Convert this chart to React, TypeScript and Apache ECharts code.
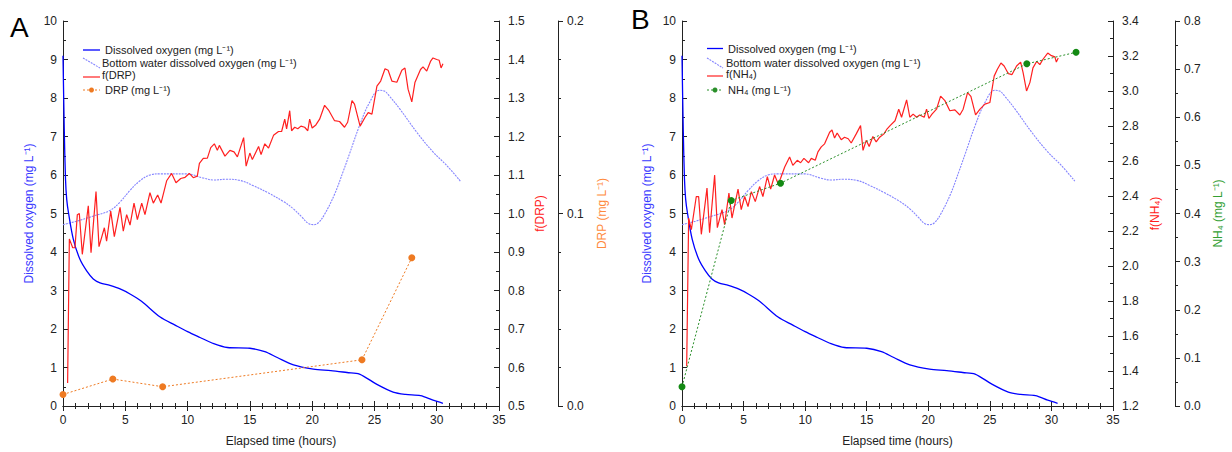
import React, { useEffect, useRef } from "react";
import * as echarts from "echarts";

// Elapsed time (hours), value pairs
const dissolvedOxygen: [number, number][] = [
  [0, 9.1], [0.1, 7.2], [0.2, 5.9], [0.3, 5.36], [0.45, 5.0], [0.83, 4.33], [1.36, 3.81],
  [1.9, 3.51], [2.43, 3.3], [2.97, 3.2], [3.77, 3.13], [4.58, 3.04], [5.38, 2.91], [6.3, 2.72],
  [7.8, 2.31], [9, 2.1], [10, 1.93], [11, 1.78], [12.1, 1.62], [13.2, 1.52], [15, 1.5],
  [16.2, 1.41], [17.2, 1.26], [18.5, 1.07], [20.1, 0.96], [21.5, 0.92], [22.8, 0.87],
  [23.8, 0.83], [25.2, 0.56], [26.5, 0.36], [27.5, 0.3], [28.7, 0.27], [29.7, 0.15], [30.5, 0.07],
];

const bottomWaterDO: [number, number][] = [
  [0, 4.71], [1.1, 4.8], [2.4, 4.93], [3.77, 5.08], [4.58, 5.3], [5.38, 5.6], [6.18, 5.85],
  [6.98, 6.0], [7.8, 6.03], [9.9, 6.03], [11.26, 5.92], [12.1, 5.87], [13.1, 5.89], [14.2, 5.86],
  [15.3, 5.72], [16.5, 5.53], [17.7, 5.31], [18.5, 5.12], [19.2, 4.9], [19.7, 4.74], [20.1, 4.71],
  [20.5, 4.76], [21.0, 4.98], [21.8, 5.5], [22.5, 6.1], [23.0, 6.55], [23.8, 7.28], [24.6, 7.88],
  [25.4, 8.2], [25.8, 8.18], [26.2, 8.05], [27.05, 7.71], [28.4, 7.11], [29.7, 6.6], [30.8, 6.25],
  [31.9, 5.84],
];

const fDRP: [number, number][] = [
  [0.37, 0.56], [0.51, 0.934], [0.78, 0.911], [0.96, 0.911], [1.15, 0.997], [1.31, 1.0],
  [1.55, 0.894], [2.03, 1.02], [2.25, 0.898], [2.65, 1.057], [2.89, 0.914], [3.32, 0.963],
  [3.5, 0.928], [3.83, 1.006], [4.12, 0.94], [4.58, 1.016], [4.84, 0.954], [5.11, 0.997],
  [5.38, 0.97], [5.7, 1.027], [5.97, 0.984], [6.32, 1.027], [6.58, 0.997], [6.98, 1.054],
  [7.25, 1.027], [7.6, 1.048], [7.87, 1.027], [8.32, 1.085], [8.72, 1.104], [9.07, 1.08],
  [9.45, 1.091], [9.8, 1.094], [10.14, 1.104], [10.46, 1.093], [10.78, 1.097], [10.95, 1.13],
  [11.26, 1.143], [11.59, 1.144], [11.86, 1.171], [12.15, 1.181], [12.39, 1.164], [12.55, 1.177],
  [13.0, 1.149], [13.4, 1.164], [13.73, 1.16], [14.0, 1.147], [14.5, 1.197], [14.7, 1.123],
  [15.0, 1.157], [15.2, 1.14], [15.7, 1.174], [15.9, 1.153], [16.2, 1.181], [16.5, 1.17],
  [16.9, 1.203], [17.3, 1.213], [17.55, 1.213], [17.8, 1.245], [17.95, 1.22], [18.2, 1.267],
  [18.35, 1.215], [18.6, 1.224], [18.85, 1.22], [19.1, 1.227], [19.4, 1.224], [19.65, 1.215],
  [19.8, 1.245], [20.0, 1.222], [20.3, 1.23], [20.6, 1.245], [21.0, 1.281], [21.35, 1.267],
  [21.8, 1.241], [22.2, 1.239], [22.6, 1.224], [22.85, 1.237], [23.2, 1.293], [23.4, 1.284],
  [23.85, 1.227], [24.25, 1.25], [24.5, 1.262], [24.8, 1.258], [25.2, 1.331], [25.5, 1.344],
  [25.85, 1.376], [26.1, 1.372], [26.4, 1.344], [26.8, 1.341], [27.2, 1.372], [27.45, 1.378],
  [27.7, 1.323], [28.0, 1.29], [28.25, 1.34], [28.7, 1.374], [28.9, 1.381], [29.2, 1.37],
  [29.5, 1.395], [29.7, 1.404], [30.0, 1.4], [30.2, 1.398], [30.35, 1.378], [30.5, 1.389],
];

const drp: [number, number][] = [
  [0, 0.006], [4, 0.014], [8, 0.01], [24, 0.024], [28, 0.077],
];

const fNH4: [number, number][] = [
  [0.38, 1.427], [0.54, 2.274], [0.76, 2.208], [1.16, 2.397], [1.35, 2.397], [1.57, 2.181],
  [2.03, 2.445], [2.24, 2.19], [2.65, 2.52], [2.87, 2.219], [3.25, 2.322], [3.46, 2.236],
  [3.81, 2.417], [4.06, 2.274], [4.55, 2.439], [4.81, 2.322], [5.09, 2.397], [5.36, 2.34],
  [5.63, 2.425], [5.95, 2.368], [6.3, 2.454], [6.57, 2.397], [6.93, 2.511], [7.2, 2.439],
  [7.52, 2.52], [7.8, 2.472], [8.0, 2.5], [8.34, 2.566], [8.74, 2.623], [9.0, 2.575],
  [9.36, 2.604], [9.63, 2.59], [9.9, 2.615], [10.28, 2.59], [10.5, 2.615], [10.82, 2.604],
  [11.04, 2.652], [11.31, 2.681], [11.58, 2.698], [11.99, 2.764], [12.18, 2.777], [12.39, 2.731],
  [12.6, 2.76], [12.93, 2.722], [13.2, 2.736], [13.5, 2.727], [13.74, 2.703], [14.15, 2.755],
  [14.5, 2.802], [14.7, 2.661], [14.96, 2.718], [15.2, 2.683], [15.5, 2.74], [15.77, 2.709],
  [16.05, 2.736], [16.4, 2.755], [16.66, 2.784], [16.9, 2.802], [17.3, 2.83], [17.6, 2.896],
  [17.83, 2.85], [18.24, 2.949], [18.5, 2.85], [18.77, 2.868], [19.05, 2.85], [19.3, 2.863],
  [19.67, 2.85], [19.86, 2.896], [20.05, 2.843], [20.3, 2.868], [20.67, 2.896], [21.0, 2.971],
  [21.35, 2.945], [21.75, 2.887], [22.16, 2.892], [22.56, 2.863], [22.83, 2.896], [23.19, 2.991],
  [23.46, 2.969], [23.84, 2.863], [24.2, 2.896], [24.6, 2.925], [25.0, 2.934], [25.35, 3.085],
  [25.6, 3.123], [25.9, 3.16], [26.16, 3.143], [26.5, 3.099], [26.8, 3.094], [27.17, 3.143],
  [27.5, 3.165], [27.7, 3.105], [27.98, 3.0], [28.25, 3.048], [28.5, 3.132], [28.8, 3.169],
  [29.06, 3.151], [29.3, 3.18], [29.7, 3.217], [30.0, 3.202], [30.28, 3.195], [30.4, 3.165],
  [30.55, 3.189],
];

const nh4: [number, number][] = [
  [0, 0.04], [4, 0.427], [8, 0.463], [28, 0.711], [32, 0.735],
];

const FONT = "Liberation Sans, Arial, sans-serif";
const INK = "#222";
const C_DO = "#0000ff";
const C_BW = "#8585ff";
const C_F = "#ff2020";
const C_DRP = "#ee7a22";
const C_NH4 = "#2a8f2a";

function xAxes(gridIndex: number) {
  const base = {
    type: "value",
    gridIndex,
    min: 0,
    max: 35,
    interval: 5,
    axisLine: { show: true, lineStyle: { color: INK, width: 1 } },
    axisTick: { show: true, inside: true, length: 5, lineStyle: { color: INK } },
    minorTick: { show: true, splitNumber: 5, length: 3, lineStyle: { color: INK } },
    splitLine: { show: false },
    minorSplitLine: { show: false },
  };
  return [
    {
      ...base,
      position: "bottom",
      axisLabel: { color: INK, fontSize: 12, fontFamily: FONT, margin: 8 },
      name: "Elapsed time (hours)",
      nameLocation: "middle",
      nameGap: 29,
      nameTextStyle: { color: INK, fontSize: 12, fontFamily: FONT },
    },
    { ...base, position: "top", axisLabel: { show: false } },
  ];
}

function leftDOAxis(gridIndex: number, gap: number) {
  return {
    type: "value",
    gridIndex,
    position: "left",
    min: 0,
    max: 10,
    interval: 1,
    axisLine: { show: true, lineStyle: { color: INK } },
    axisTick: { show: true, inside: true, length: 5, lineStyle: { color: INK } },
    minorTick: { show: true, splitNumber: 2, length: 3, lineStyle: { color: INK } },
    axisLabel: { color: INK, fontSize: 12, fontFamily: FONT, margin: 6 },
    splitLine: { show: false },
    name: "Dissolved oxygen (mg L⁻¹)",
    nameLocation: "middle",
    nameRotate: 90,
    nameGap: gap,
    nameTextStyle: { color: "#3a3aff", fontSize: 12, fontFamily: FONT },
  };
}

function rightAxis(
  gridIndex: number,
  opts: { min: number; max: number; interval: number; minor: number; offset: number; name: string; color: string; gap: number; inside: boolean }
) {
  return {
    type: "value",
    gridIndex,
    position: "right",
    offset: opts.offset,
    min: opts.min,
    max: opts.max,
    interval: opts.interval,
    axisLine: { show: true, onZero: false, lineStyle: { color: INK } },
    axisTick: { show: true, inside: opts.inside, length: 5, lineStyle: { color: INK } },
    minorTick: { show: true, splitNumber: opts.minor, length: 3, lineStyle: { color: INK } },
    axisLabel: {
      color: INK,
      fontSize: 12,
      fontFamily: FONT,
      margin: 9,
      formatter: (v: number) => v.toFixed(1),
    },
    splitLine: { show: false },
    name: opts.name,
    nameLocation: "middle",
    nameRotate: 90,
    nameGap: opts.gap,
    nameTextStyle: { color: opts.color, fontSize: 12, fontFamily: FONT },
  };
}

function legend(x0: number, x1: number, tx1: number, tx2: number, ys: number[], fName: string, mName: string, mColor: string, mDash: number[]) {
  const t = (x: number, y: number, text: string) => ({
    type: "text",
    x,
    y,
    silent: true,
    style: { text, fill: INK, font: `11px ${FONT}`, verticalAlign: "middle", align: "left" },
  });
  return [
    { type: "line", silent: true, shape: { x1: x0, y1: ys[0], x2: x1, y2: ys[0] }, style: { stroke: C_DO, lineWidth: 1.3 } },
    t(tx1, ys[0], "Dissolved oxygen (mg L⁻¹)"),
    { type: "line", silent: true, shape: { x1: x0, y1: ys[1] - 5, x2: x1, y2: ys[1] + 5 }, style: { stroke: C_BW, lineWidth: 1.1, lineDash: [2, 1] } },
    t(tx2, ys[1], "Bottom water dissolved oxygen (mg L⁻¹)"),
    { type: "line", silent: true, shape: { x1: x0, y1: ys[2] + 2, x2: x1, y2: ys[2] + 2 }, style: { stroke: C_F, lineWidth: 1.2 } },
    t(tx2, ys[2], fName),
    { type: "line", silent: true, shape: { x1: x0, y1: ys[3], x2: x1, y2: ys[3] }, style: { stroke: mColor, lineWidth: 1, lineDash: mDash } },
    { type: "circle", silent: true, shape: { cx: (x0 + x1) / 2, cy: ys[3], r: 2.5 }, style: { fill: mColor } },
    t(tx1, ys[3], mName),
  ];
}

export default function App() {
  const ref = useRef<HTMLDivElement>(null);
  useEffect(() => {
    document.body.style.margin = "0";
    if (!ref.current) return;
    const chart = echarts.init(ref.current, undefined, { renderer: "svg" });
    chart.setOption({
      animation: false,
      backgroundColor: "#fff",
      textStyle: { fontFamily: FONT },
      grid: [
        { left: 63, width: 436, top: 21, height: 389 },
        { left: 682, width: 431, top: 21, height: 389 },
      ],
      xAxis: [...xAxes(0), ...xAxes(1)],
      yAxis: [
        leftDOAxis(0, 28),
        rightAxis(0, { min: 0.5, max: 1.5, interval: 0.1, minor: 2, offset: 0, name: "f(DRP)", color: C_F, gap: 35, inside: true }),
        rightAxis(0, { min: 0, max: 0.2, interval: 0.1, minor: 5, offset: 59, name: "DRP (mg L⁻¹)", color: "#ff8a3d", gap: 38, inside: false }),
        leftDOAxis(1, 29),
        rightAxis(1, { min: 1.2, max: 3.4, interval: 0.2, minor: 2, offset: 0, name: "f(NH₄)", color: C_F, gap: 36, inside: true }),
        rightAxis(1, { min: 0, max: 0.8, interval: 0.1, minor: 2, offset: 62, name: "NH₄ (mg L⁻¹)", color: "#33a033", gap: 37, inside: false }),
      ],
      series: [
        { name: "Dissolved oxygen A", type: "line", xAxisIndex: 0, yAxisIndex: 0, data: dissolvedOxygen, showSymbol: false, smooth: 0.3, lineStyle: { color: C_DO, width: 1.3 }, z: 4 },
        { name: "Bottom water A", type: "line", xAxisIndex: 0, yAxisIndex: 0, data: bottomWaterDO, showSymbol: false, smooth: 0.4, lineStyle: { color: C_BW, width: 1.1, type: [2, 1] }, z: 3 },
        { name: "f(DRP)", type: "line", xAxisIndex: 0, yAxisIndex: 1, data: fDRP, showSymbol: false, lineStyle: { color: C_F, width: 1.2 }, z: 5 },
        { name: "DRP", type: "line", xAxisIndex: 0, yAxisIndex: 2, data: drp, symbol: "circle", symbolSize: 7, itemStyle: { color: C_DRP }, lineStyle: { color: C_DRP, width: 1, type: [2, 2] }, z: 6 },
        { name: "Dissolved oxygen B", type: "line", xAxisIndex: 2, yAxisIndex: 3, data: dissolvedOxygen, showSymbol: false, smooth: 0.3, lineStyle: { color: C_DO, width: 1.3 }, z: 4 },
        { name: "Bottom water B", type: "line", xAxisIndex: 2, yAxisIndex: 3, data: bottomWaterDO, showSymbol: false, smooth: 0.4, lineStyle: { color: C_BW, width: 1.1, type: [2, 1] }, z: 3 },
        { name: "f(NH4)", type: "line", xAxisIndex: 2, yAxisIndex: 4, data: fNH4, showSymbol: false, lineStyle: { color: C_F, width: 1.2 }, z: 5 },
        { name: "NH4", type: "line", xAxisIndex: 2, yAxisIndex: 5, data: nh4, symbol: "circle", symbolSize: 7, itemStyle: { color: "#138a13" }, lineStyle: { color: C_NH4, width: 1, type: [2, 2] }, z: 6 },
      ],
      graphic: [
        { type: "text", x: 10, y: 13, silent: true, style: { text: "A", fill: "#000", font: `28px ${FONT}`, verticalAlign: "top" } },
        { type: "text", x: 631, y: 5, silent: true, style: { text: "B", fill: "#000", font: `28px ${FONT}`, verticalAlign: "top" } },
        ...legend(83, 100, 105, 102, [50, 63, 75, 90], "f(DRP)", "DRP (mg L⁻¹)", C_DRP, [2, 2]),
        ...legend(707, 723, 728, 726, [48.5, 63, 74, 90], "f(NH₄)", "NH₄ (mg L⁻¹)", C_NH4, [2, 2]),
      ],
    });
    return () => chart.dispose();
  }, []);
  return <div ref={ref} style={{ width: 1232, height: 452 }} />;
}
